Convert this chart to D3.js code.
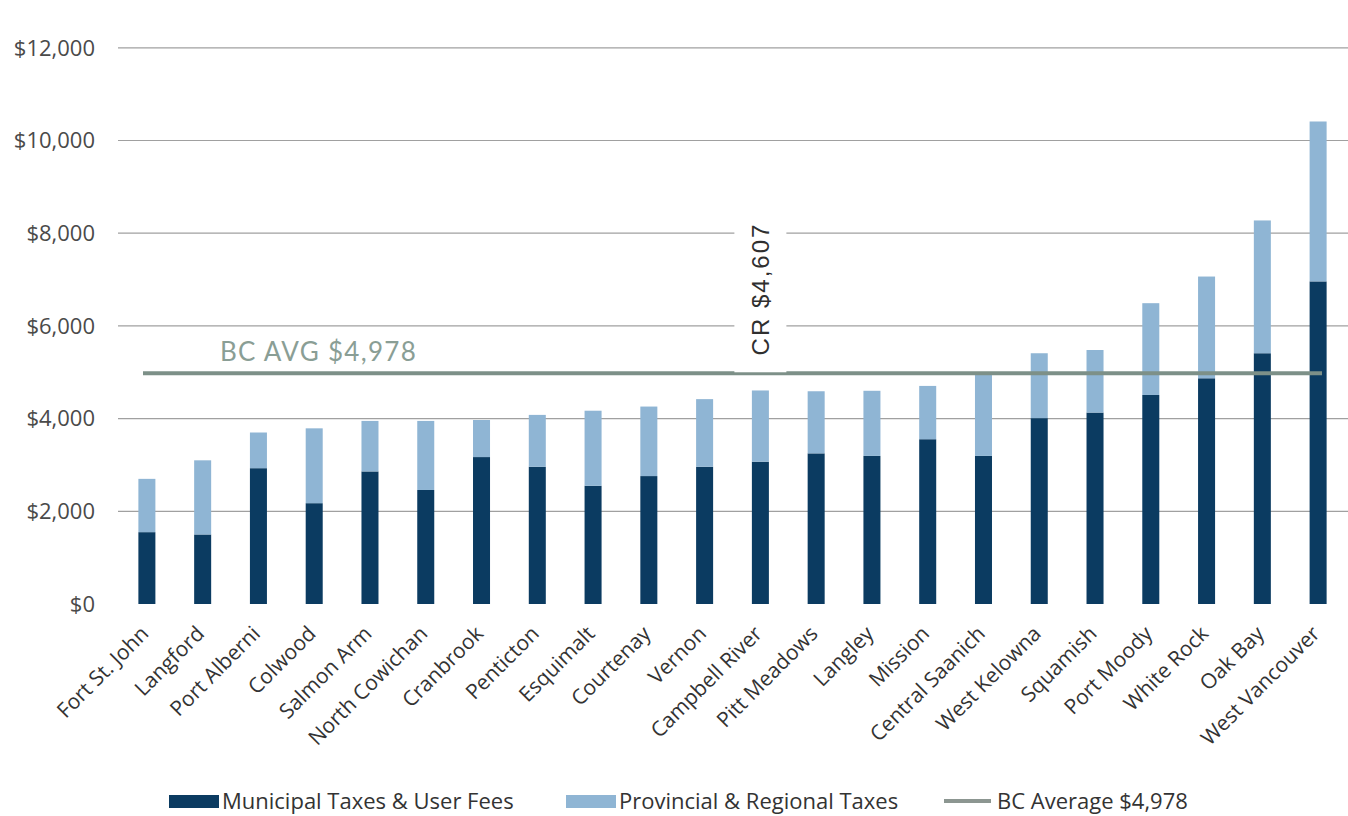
<!DOCTYPE html>
<html>
<head>
<meta charset="utf-8">
<script src="https://cdn.jsdelivr.net/npm/d3@7"></script>
<style>
  html, body { margin: 0; padding: 0; background: #fff; }
  svg { display: block; }
</style>
</head>
<body>
<svg id="chart" width="1348" height="816"></svg>
<script>
// Communities, ordered by total household tax & fee burden
const communities = [
  "Fort St. John", "Langford", "Port Alberni", "Colwood", "Salmon Arm",
  "North Cowichan", "Cranbrook", "Penticton", "Esquimalt", "Courtenay",
  "Vernon", "Campbell River", "Pitt Meadows", "Langley", "Mission",
  "Central Saanich", "West Kelowna", "Squamish", "Port Moody", "White Rock",
  "Oak Bay", "West Vancouver"
];

// Municipal taxes & user fees ($)
const municipal = [
  1550, 1500, 2930, 2175, 2860,
  2460, 3170, 2960, 2550, 2760,
  2960, 3070, 3250, 3195, 3555,
  3195, 4010, 4130, 4510, 4870,
  5410, 6960
];

// Total including provincial & regional taxes ($)
const totals = [
  2700, 3100, 3700, 3790, 3950,
  3950, 3970, 4080, 4170, 4260,
  4420, 4607, 4590, 4600, 4705,
  4940, 5410, 5480, 6490, 7065,
  8275, 10410
];

// Provincial & regional portion = total minus municipal
const provincial = totals.map((t, i) => t - municipal[i]);

const yTicks = [0, 2000, 4000, 6000, 8000, 10000, 12000];
const bcAverage = 4978;
const crTotal = 4607;

const legendItems = [
  { label: "Municipal Taxes & User Fees", kind: "rect", color: "#0b3b61" },
  { label: "Provincial & Regional Taxes", kind: "rect", color: "#8fb5d4" },
  { label: "BC Average $4,978", kind: "line", color: "#8c9691" }
];

const colors = { municipal: "#0b3b61", provincial: "#8fb5d4", avg: "#7d9088", grid: "#a0a0a0" };
const uiFont = "'Open Sans', sans-serif";

const svg = d3.select("#chart");

const y = d3.scaleLinear().domain([0, 12000]).range([604, 47.8]);
const x = d3.scaleBand().domain(communities).range([119, 1346])
  .paddingInner(0.695).paddingOuter(0.3475);

// Gridlines (no line at zero)
svg.append("g").selectAll("line")
  .data(yTicks.filter(d => d > 0))
  .join("line")
  .attr("x1", 118).attr("x2", 1348)
  .attr("y1", d => y(d)).attr("y2", d => y(d))
  .attr("stroke", colors.grid).attr("stroke-width", 1.2);

// Y axis labels
const fmt = d3.format(",");
svg.append("g").selectAll("text")
  .data(yTicks)
  .join("text")
  .attr("x", 95).attr("y", d => y(d))
  .attr("dy", "0.35em")
  .attr("text-anchor", "end")
  .attr("font-family", uiFont)
  .attr("font-size", 22)
  .attr("fill", "#4a4a4a")
  .text(d => "$" + fmt(d));

// Stacked bars
const rows = communities.map((c, i) => ({ c, m: municipal[i], p: provincial[i] }));
const stack = d3.stack().keys(["m", "p"])(rows);
const fills = [colors.municipal, colors.provincial];

svg.append("g").selectAll("g")
  .data(stack)
  .join("g")
  .attr("fill", (d, i) => fills[i])
  .selectAll("rect")
  .data(d => d)
  .join("rect")
  .attr("x", d => x(d.data.c))
  .attr("width", x.bandwidth())
  .attr("y", d => y(d[1]))
  .attr("height", d => y(d[0]) - y(d[1]));

// BC average line
svg.append("line")
  .attr("x1", 143).attr("x2", 1322)
  .attr("y1", y(bcAverage)).attr("y2", y(bcAverage))
  .attr("stroke", colors.avg).attr("stroke-width", 4);

svg.append("text")
  .attr("x", 220).attr("y", y(bcAverage) - 12)
  .attr("font-family", "Lato, sans-serif")
  .attr("font-size", 26)
  .attr("letter-spacing", 1.3)
  .attr("fill", "#8a9e95")
  .text("BC AVG $" + fmt(bcAverage));

// Campbell River callout
const crX = x("Campbell River") + x.bandwidth() / 2;
svg.append("rect")
  .attr("x", crX - 26).attr("y", 214)
  .attr("width", 52).attr("height", y(bcAverage) - 214 - 1)
  .attr("fill", "#fff");
svg.append("text")
  .attr("transform", `translate(${crX + 9},289) rotate(-90)`)
  .attr("text-anchor", "middle")
  .attr("font-family", "'Liberation Sans', Arial, sans-serif")
  .attr("font-size", 24)
  .attr("letter-spacing", 2)
  .attr("fill", "#2f2f2f")
  .text("CR $" + fmt(crTotal));

// Category labels
svg.append("g").selectAll("text")
  .data(communities)
  .join("text")
  .attr("transform", d => `translate(${x(d) + x.bandwidth() / 2 + 3},635) rotate(-45)`)
  .attr("text-anchor", "end")
  .attr("font-family", uiFont)
  .attr("font-size", 21)
  .attr("fill", "#333")
  .text(d => d);

// Legend
const legendPos = [169, 566, 944];
const lg = svg.append("g").attr("font-family", uiFont);
legendItems.forEach((it, i) => {
  const lx = legendPos[i];
  if (it.kind === "rect") {
    lg.append("rect").attr("x", lx).attr("y", 795).attr("width", 50).attr("height", 13).attr("fill", it.color);
  } else {
    lg.append("line").attr("x1", lx).attr("x2", lx + 47).attr("y1", 801).attr("y2", 801)
      .attr("stroke", it.color).attr("stroke-width", 4);
  }
  lg.append("text").attr("x", lx + 53).attr("y", 801).attr("dy", "0.35em")
    .attr("font-size", 22).attr("fill", "#333").text(it.label);
});
</script>
</body>
</html>
